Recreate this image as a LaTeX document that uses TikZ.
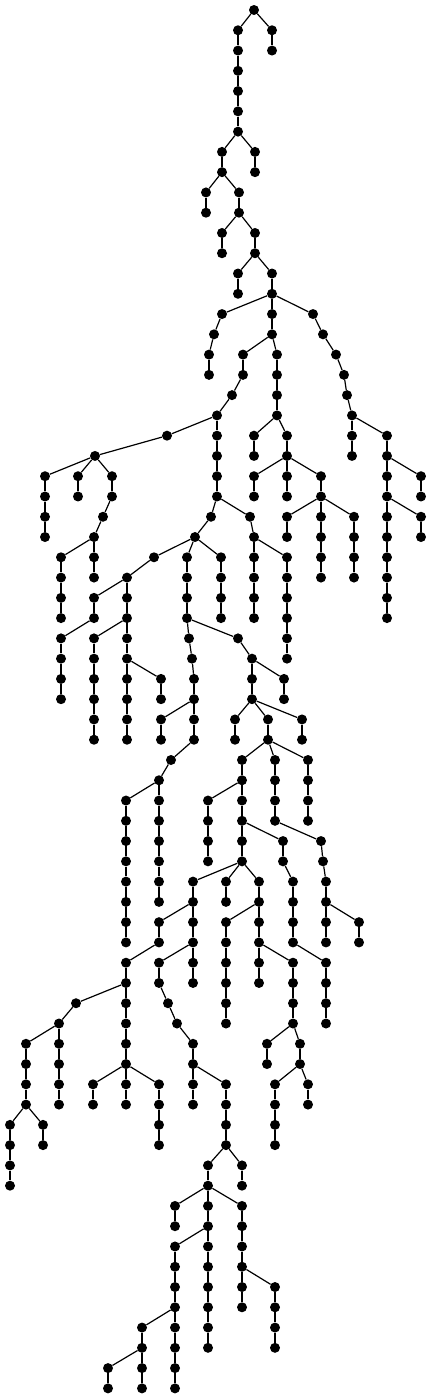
\documentclass[tikz,border=0pt]{standalone}
\usepackage{tikz}

% x / level / x of the parent one level up
\newcommand{\treedata}{
  238/1/254, 272/1/254,
  238/2/238, 272/2/272,
  238/3/238, 238/4/238, 238/5/238, 238/6/238,
  222/7/238, 255/7/238,
  222/8/222, 255/8/255,
  206/9/222, 239/9/222,
  206/10/206, 239/10/239,
  222/11/239, 255/11/239,
  222/12/222, 255/12/255,
  238/13/255, 272/13/255,
  238/14/238, 272/14/272,
  222/15/272, 272/15/272, 313/15/272,
  214/16/222, 272/16/272, 323/16/313,
  209/17/214, 243/17/272, 277/17/272, 336/17/323,
  209/18/209, 243/18/243, 277/18/277, 344/18/336,
  232/19/243, 277/19/277, 347/19/344,
  217/20/232, 277/20/277, 352/20/347,
  167/21/217, 217/21/217, 254/21/277, 287/21/277, 352/21/352, 387/21/352,
  95/22/167, 217/22/217, 254/22/254, 287/22/287, 352/22/352, 387/22/387,
  45/23/95, 78/23/95, 112/23/95, 217/23/217, 254/23/287, 287/23/287, 321/23/287, 387/23/387, 421/23/387,
  45/24/45, 78/24/78, 112/24/112, 217/24/217, 254/24/254, 287/24/287, 321/24/321, 387/24/387, 421/24/421,
  45/25/45, 103/25/112, 211/25/217, 250/25/217, 287/25/321, 321/25/321, 354/25/321, 387/25/387, 421/25/387,
  45/26/45, 94/26/103, 195/26/211, 254/26/250, 287/26/287, 321/26/321, 354/26/354, 387/26/387, 421/26/421,
  61/27/94, 94/27/94, 154/27/195, 187/27/195, 221/27/195, 254/27/254, 287/27/254, 321/27/321, 354/27/354, 387/27/387,
  61/28/61, 94/28/94, 127/28/154, 187/28/187, 221/28/221, 254/28/254, 287/28/287, 321/28/321, 354/28/354, 387/28/387,
  61/29/61, 94/29/127, 127/29/127, 187/29/187, 221/29/221, 254/29/254, 287/29/287, 387/29/387,
  61/30/61, 94/30/94, 127/30/127, 187/30/187, 221/30/221, 254/30/254, 287/30/287, 387/30/387,
  61/31/94, 94/31/127, 127/31/127, 189/31/187, 238/31/187, 287/31/287,
  61/32/61, 94/32/94, 127/32/127, 192/32/189, 252/32/238, 287/32/287,
  61/33/61, 94/33/94, 127/33/127, 161/33/127, 194/33/192, 252/33/252, 284/33/252,
  61/34/61, 94/34/94, 127/34/127, 161/34/161, 194/34/194, 252/34/252, 284/34/284,
  94/35/94, 127/35/127, 161/35/194, 194/35/194, 235/35/252, 268/35/252, 302/35/252,
  94/36/94, 127/36/127, 161/36/161, 194/36/194, 235/36/235, 268/36/268, 302/36/302,
  171/37/194, 242/37/268, 275/37/268, 308/37/268,
  159/38/171, 242/38/242, 275/38/275, 308/38/308,
  126/39/159, 159/39/159, 208/39/242, 242/39/242, 275/39/275, 308/39/308,
  126/40/126, 159/40/159, 208/40/208, 242/40/242, 275/40/275, 308/40/308,
  126/41/126, 159/41/159, 208/41/208, 242/41/242, 283/41/242, 321/41/275,
  126/42/126, 159/42/159, 208/42/208, 242/42/242, 283/42/283, 323/42/321,
  126/43/126, 159/43/159, 193/43/242, 226/43/242, 259/43/242, 293/43/283, 326/43/323,
  126/44/126, 159/44/159, 193/44/193, 226/44/226, 259/44/259, 293/44/293, 326/44/326,
  126/45/126, 159/45/193, 193/45/193, 226/45/259, 259/45/259, 293/45/293, 326/45/326, 359/45/326,
  126/46/126, 159/46/159, 193/46/193, 226/46/226, 259/46/259, 293/46/293, 326/46/326, 359/46/359,
  126/47/159, 159/47/193, 193/47/193, 226/47/226, 259/47/259, 293/47/259, 326/47/293,
  126/48/126, 159/48/159, 193/48/193, 226/48/226, 259/48/259, 293/48/293, 326/48/326,
  76/49/126, 126/49/126, 168/49/159, 226/49/226, 293/49/293, 326/49/326,
  59/50/76, 126/50/126, 177/50/168, 226/50/226, 293/50/293, 326/50/326,
  26/51/59, 59/51/59, 126/51/126, 193/51/177, 267/51/293, 300/51/293,
  26/52/26, 59/52/59, 126/52/126, 193/52/193, 267/52/267, 300/52/300,
  26/53/26, 59/53/59, 93/53/126, 126/53/126, 159/53/126, 193/53/193, 226/53/193, 275/53/300, 308/53/300,
  26/54/26, 59/54/59, 93/54/93, 126/54/126, 159/54/159, 193/54/193, 226/54/226, 275/54/275, 308/54/308,
  10/55/26, 43/55/26, 159/55/159, 226/55/226, 275/55/275,
  10/56/10, 43/56/43, 159/56/159, 226/56/226, 275/56/275,
  10/57/10, 208/57/226, 242/57/226,
  10/58/10, 208/58/208, 242/58/242,
  175/59/208, 208/59/208, 242/59/208,
  175/60/175, 208/60/208, 242/60/242,
  175/61/208, 208/61/208, 242/61/242,
  175/62/175, 208/62/208, 242/62/242,
  175/63/175, 208/63/208, 242/63/242, 275/63/242,
  175/64/175, 208/64/208, 242/64/242, 275/64/275,
  142/65/175, 175/65/175, 208/65/208, 275/65/275,
  142/66/142, 175/66/175, 208/66/208, 275/66/275,
  108/67/142, 142/67/142, 175/67/175,
  108/68/108, 142/68/142, 175/68/175}

\begin{document}
\begin{tikzpicture}[x=1pt, y=-1pt,
            vertex/.style={circle, fill=black, inner sep=0pt, minimum size=10pt},
            link/.style={draw=black, line width=1.2pt}]
  \useasboundingbox (0,0) rectangle (431,1398);
  \node [vertex] (n0-254) at (254,10) {};
  \foreach \x/\l/\p [evaluate=\l as \u using int(\l-1)] in \treedata {
    \node [vertex] (n\l-\x) at (\x,{10+20.27*\l}) {};
    \path [link] (n\u-\p) -- (n\l-\x);
  }
\end{tikzpicture}
\end{document}
